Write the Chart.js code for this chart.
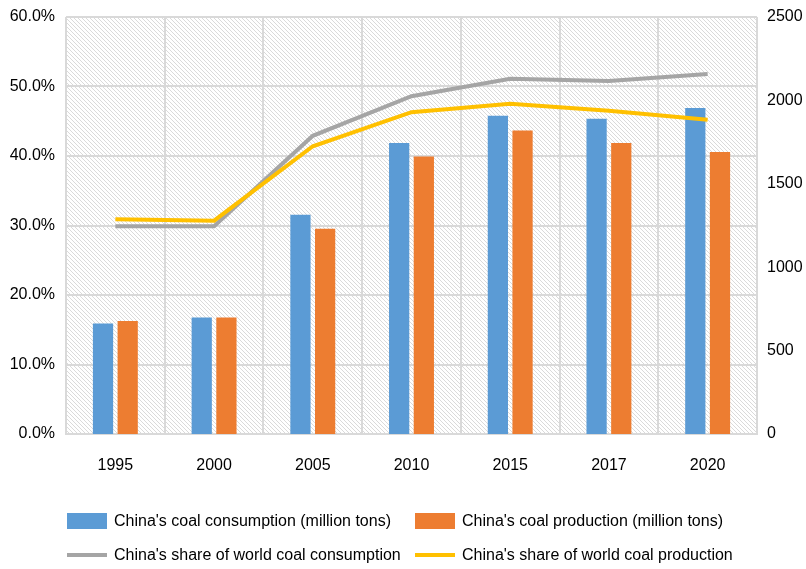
<!DOCTYPE html>
<html>
<head>
<meta charset="utf-8">
<script src="https://cdn.jsdelivr.net/npm/chart.js@4.4.0/dist/chart.umd.min.js"></script>
<style>
  html, body { margin: 0; padding: 0; background: #fff; }
  #wrap { width: 806px; height: 569px; position: relative; }
</style>
</head>
<body>
<div id="wrap"><canvas id="grafico"></canvas></div>
<script>
var years = ['1995', '2000', '2005', '2010', '2015', '2017', '2020']

// million tons (right axis)
var consumo = [663, 699, 1315, 1745, 1908, 1890, 1954]
var producao = [677, 699, 1231, 1663, 1819, 1745, 1691]

// % share of world (left axis)
var shareConsumo = [29.9, 29.9, 42.9, 48.6, 51.1, 50.8, 51.8]
var shareProducao = [30.9, 30.7, 41.4, 46.3, 47.5, 46.5, 45.2]

var leftTicks = [0, 10, 20, 30, 40, 50, 60]
var rightTicks = [0, 500, 1000, 1500, 2000, 2500]

var fonte = "'Liberation Sans', Arial, sans-serif"

// fundo hachurado da area do grafico
function criaHachura() {
  var c = document.createElement('canvas')
  c.width = 4
  c.height = 4
  var g = c.getContext('2d')
  g.fillStyle = '#ffffff'
  g.fillRect(0, 0, 4, 4)
  g.strokeStyle = '#dadada'
  g.lineWidth = 1
  g.beginPath()
  g.moveTo(-1, -1)
  g.lineTo(5, 5)
  g.moveTo(-1, 3)
  g.lineTo(1, 5)
  g.moveTo(3, -1)
  g.lineTo(5, 1)
  g.stroke()
  return c
}

var fundoPlugin = {
  id: 'fundo',
  beforeDraw: function(chart) {
    var ctx = chart.ctx
    var a = chart.chartArea
    ctx.save()
    ctx.fillStyle = ctx.createPattern(criaHachura(), 'repeat')
    ctx.fillRect(a.left, a.top, a.right - a.left, a.bottom - a.top)
    ctx.restore()
  }
}

// legenda no estilo do Excel, duas colunas alinhadas
var legendaPlugin = {
  id: 'legenda',
  afterDraw: function(chart) {
    var ctx = chart.ctx
    var colX = [67, 415]
    var rowY = [521, 555]
    ctx.save()
    ctx.font = '16px ' + fonte
    ctx.textBaseline = 'middle'
    chart.data.datasets.forEach(function(ds, i) {
      var x = colX[i % 2]
      var y = rowY[Math.floor(i / 2)]
      if (ds.type === 'bar') {
        ctx.fillStyle = ds.backgroundColor
        ctx.fillRect(x, y - 8, 40, 16)
      } else {
        ctx.strokeStyle = ds.borderColor
        ctx.lineWidth = 4
        ctx.beginPath()
        ctx.moveTo(x, y)
        ctx.lineTo(x + 40, y)
        ctx.stroke()
      }
      ctx.fillStyle = '#000'
      ctx.fillText(ds.label, x + 47, y + 1)
    })
    ctx.restore()
  }
}

// tira o espaco extra que o eixo reserva para o rotulo do topo
function fixaEixo(largura) {
  return function(axis) {
    axis.width = largura
    axis.paddingTop = 0
    axis.paddingBottom = 0
  }
}

var ctx = document.getElementById('grafico')
var chart = new Chart(ctx, {
  data: {
    labels: years,
    datasets: [
      {
        type: 'bar',
        label: "China's coal consumption (million tons)",
        data: consumo,
        backgroundColor: '#5b9bd5',
        yAxisID: 'y1',
        order: 2,
        categoryPercentage: 0.5,
        barPercentage: 0.82
      },
      {
        type: 'bar',
        label: "China's coal production (million tons)",
        data: producao,
        backgroundColor: '#ed7d31',
        yAxisID: 'y1',
        order: 3,
        categoryPercentage: 0.5,
        barPercentage: 0.82
      },
      {
        type: 'line',
        label: "China's share of world coal consumption",
        data: shareConsumo,
        borderColor: '#a5a5a5',
        backgroundColor: '#a5a5a5',
        borderWidth: 4,
        pointRadius: 0,
        tension: 0,
        yAxisID: 'y',
        order: 1
      },
      {
        type: 'line',
        label: "China's share of world coal production",
        data: shareProducao,
        borderColor: '#ffc000',
        backgroundColor: '#ffc000',
        borderWidth: 4,
        pointRadius: 0,
        tension: 0,
        yAxisID: 'y',
        order: 0
      }
    ]
  },
  options: {
    responsive: true,
    maintainAspectRatio: false,
    animation: false,
    layout: {
      padding: { top: 17, left: 10, right: 3, bottom: 95 }
    },
    plugins: {
      legend: { display: false },
      tooltip: { enabled: false }
    },
    scales: {
      x: {
        offset: true,
        afterFit: function(axis) { axis.height = 40 },
        grid: { color: '#d9d9d9', lineWidth: 2, offset: true, drawTicks: false },
        border: { color: '#d9d9d9', width: 2 },
        ticks: { color: '#000', font: { family: fonte, size: 16 }, padding: 22 }
      },
      y: {
        position: 'left',
        min: 0,
        max: 60,
        afterBuildTicks: function(axis) {
          axis.ticks = leftTicks.map(function(v) { return { value: v } })
        },
        afterFit: fixaEixo(56),
        grid: { color: '#d9d9d9', lineWidth: 2, drawTicks: false },
        border: { display: false },
        ticks: {
          color: '#000',
          font: { family: fonte, size: 16 },
          padding: 11,
          callback: function(v) { return v.toFixed(1) + '%' }
        }
      },
      y1: {
        position: 'right',
        min: 0,
        max: 2500,
        afterBuildTicks: function(axis) {
          axis.ticks = rightTicks.map(function(v) { return { value: v } })
        },
        afterFit: fixaEixo(46),
        grid: { display: false, drawTicks: false },
        border: { display: false },
        ticks: {
          color: '#000',
          font: { family: fonte, size: 16 },
          padding: 10,
          callback: function(v) { return String(v) }
        }
      }
    }
  },
  plugins: [fundoPlugin, legendaPlugin]
})
</script>
</body>
</html>
